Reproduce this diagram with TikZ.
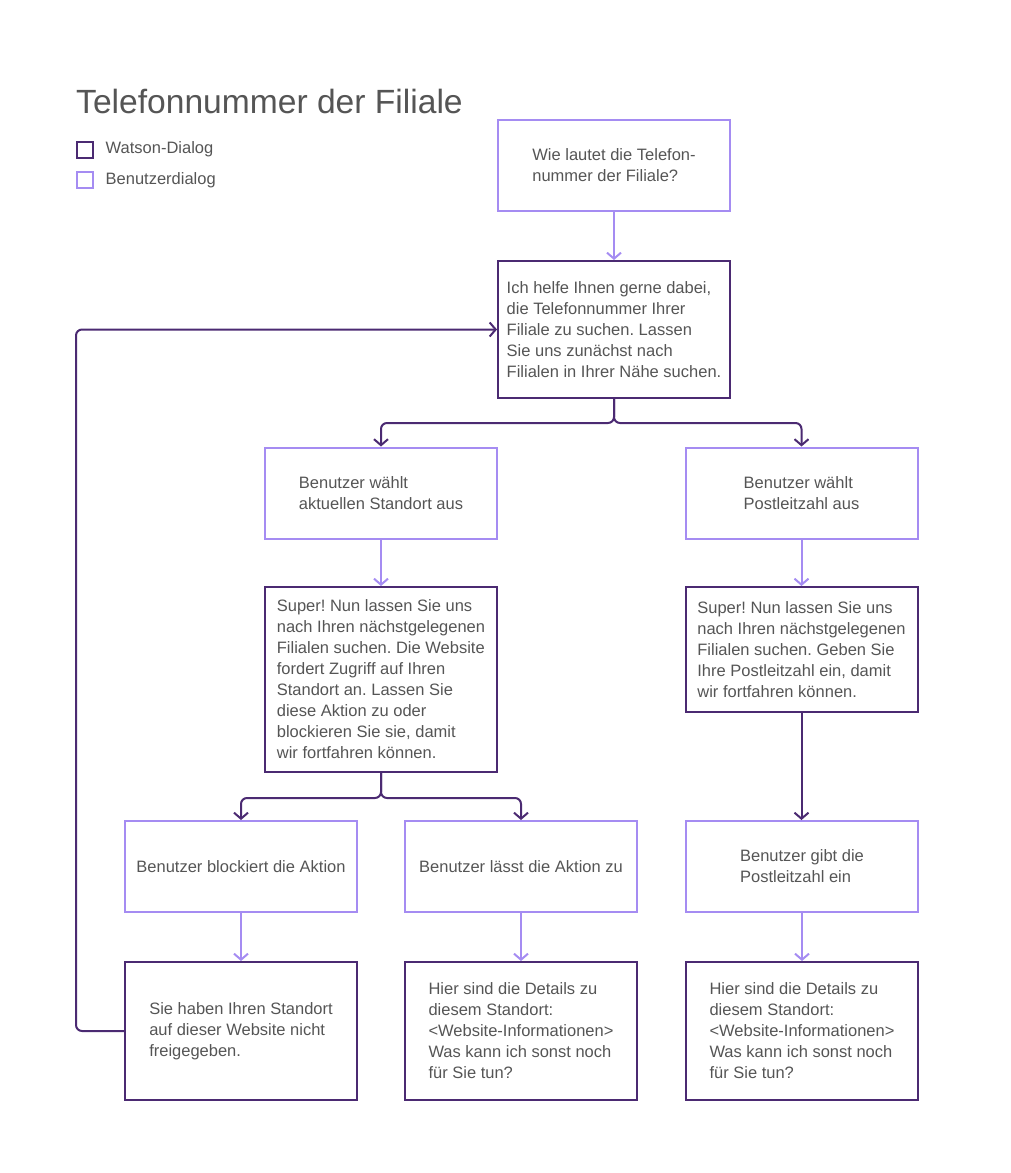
\documentclass[tikz,border=0pt]{standalone}
\usepackage{fontspec}
\setmainfont{Liberation Sans}
\usepackage{tikz}
\usetikzlibrary{arrows.meta,positioning}
\frenchspacing

\definecolor{watson}{HTML}{4B2A72}
\definecolor{benutzer}{HTML}{A58CF2}
\definecolor{schrift}{HTML}{555555}

\begin{document}
\begin{tikzpicture}[x=1pt,y=-1pt,
    every node/.style={text=schrift,font=\fontsize{16.5}{21}\selectfont},
    wbox/.style={draw=watson,line width=2pt,align=left,minimum width=232pt,inner sep=0pt},
    bbox/.style={draw=benutzer,line width=2pt,align=left,minimum width=232pt,minimum height=91pt,inner sep=0pt},
    wline/.style={draw=watson,line width=2pt,rounded corners=6pt,-{Straight Barb[length=6pt,width=14pt]}},
    bline/.style={draw=benutzer,line width=2pt,-{Straight Barb[length=6pt,width=14pt]}}]
      \useasboundingbox (0,0) rectangle (1011,1173);
      % title and legend
      \node[anchor=base west,inner sep=0pt,font=\fontsize{33.6}{40}\selectfont] (titel) at (76,113) {Telefonnummer der Filiale};
      \node[draw=watson,line width=2pt,minimum size=16pt,inner sep=0pt] (legw) at (84.5,149.5) {};
      \node[draw=benutzer,line width=2pt,minimum size=16pt,inner sep=0pt] (legb) at (84.5,180) {};
      \node[right=12pt of legw,inner sep=0pt] (legwtext) {Watson-Dialog};
      \node[right=12pt of legb,inner sep=0pt] (legbtext) {Benutzerdialog};
      % boxes
      \node[bbox] (frage) at (614,165.5) {Wie lautet die Telefon-\\nummer der Filiale?};
      \node[wbox,minimum height=137pt] (hilfe) at (614,329.5) {Ich helfe Ihnen gerne dabei,\\die Telefonnummer Ihrer\\Filiale zu suchen. Lassen\\Sie uns zunächst nach\\Filialen in Ihrer Nähe suchen.};
      \node[bbox] (standort) at (381,493) {Benutzer wählt\\aktuellen Standort aus};
      \node[bbox] (plz) at (801.5,493) {Benutzer wählt\\Postleitzahl aus};
      \node[wbox,minimum height=185pt] (zugriff) at (381,679.5) {Super! Nun lassen Sie uns\\nach Ihren nächstgelegenen\\Filialen suchen. Die Website\\fordert Zugriff auf Ihren\\Standort an. Lassen Sie\\diese Aktion zu oder\\blockieren Sie sie, damit\\wir fortfahren können.};
      \node[wbox,minimum height=125pt] (plzfrage) at (801.5,649.5) {Super! Nun lassen Sie uns\\nach Ihren nächstgelegenen\\Filialen suchen. Geben Sie\\Ihre Postleitzahl ein, damit\\wir fortfahren können.};
      \node[bbox] (blockiert) at (241,866.5) {Benutzer blockiert die Aktion};
      \node[bbox] (erlaubt) at (521,866.5) {Benutzer lässt die Aktion zu};
      \node[bbox] (plzein) at (802,866.5) {Benutzer gibt die\\Postleitzahl ein};
      \node[wbox,minimum height=138pt] (nicht) at (241,1031) {Sie haben Ihren Standort\\auf dieser Website nicht\\freigegeben.};
      \node[wbox,minimum height=138pt] (details) at (521,1031) {Hier sind die Details zu\\diesem Standort:\\<Website-Informationen>\\Was kann ich sonst noch\\für Sie tun?};
      \node[wbox,minimum height=138pt] (detailsplz) at (802,1031) {Hier sind die Details zu\\diesem Standort:\\<Website-Informationen>\\Was kann ich sonst noch\\für Sie tun?};
      % connectors
      \draw[bline] (frage) -- (hilfe);
      \draw[wline] (hilfe.south) -- ++(0,24) -| (standort.north);
      \draw[wline] (hilfe.south) -- ++(0,24) -| (plz.north);
      \draw[bline] (standort) -- (zugriff);
      \draw[bline] (plz) -- (plzfrage);
      \draw[wline] (zugriff.south) -- ++(0,25) -| (blockiert.north);
      \draw[wline] (zugriff.south) -- ++(0,25) -| (erlaubt.north);
      \draw[wline] (plzfrage.south) -- (plzfrage.south |- plzein.north);
      \draw[bline] (blockiert) -- (nicht);
      \draw[bline] (erlaubt) -- (details);
      \draw[bline] (plzein) -- (detailsplz);
      \draw[wline] (nicht.west) -- ++(-48,0) |- (hilfe.west);
\end{tikzpicture}
\end{document}
